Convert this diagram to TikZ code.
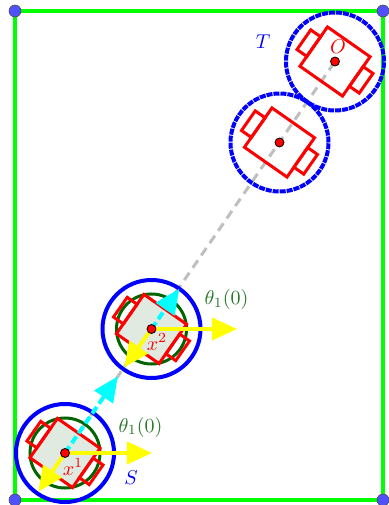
\documentclass[tikz,border=0pt]{standalone}
\usetikzlibrary{arrows.meta}

\definecolor{framegreen}{RGB}{0,255,0}
\definecolor{cornerblue}{RGB}{80,80,255}
\definecolor{sensorgreen}{RGB}{0,100,0}
\definecolor{labelgreen}{RGB}{40,120,40}
\definecolor{bodyfill}{RGB}{224,234,224}
\definecolor{headcyan}{RGB}{0,255,255}
\definecolor{axisyellow}{RGB}{255,255,0}

\tikzstyle{workspace} = [draw=framegreen, line width=2pt]
\tikzstyle{cornerdot} = [circle, draw=black!70, fill=cornerblue, inner sep=0pt, minimum size=6pt, line width=0.3pt]
\tikzstyle{reach} = [draw=blue, line width=2pt]
\tikzstyle{goalreach} = [reach, dash pattern=on 3pt off 0.5pt]
\tikzstyle{sensorring} = [draw=sensorgreen, line width=1.5pt]
\tikzstyle{robotline} = [draw=red, line width=1.5pt]
\tikzstyle{reddot} = [circle, draw=black, fill=red, inner sep=0pt, minimum size=4.5pt, line width=0.4pt]
\tikzstyle{route} = [draw=black!25, line width=1.5pt, dash pattern=on 4.5pt off 3pt]
\tikzstyle{headarrow} = [draw=headcyan, line width=2pt, dash pattern=on 4pt off 2pt, -{Triangle[length=12.5pt,width=11pt]}]
\tikzstyle{axisarrow} = [draw=axisyellow, line width=2pt, -{Triangle[length=12.5pt,width=11pt]}]

% robot body with two wheels, rotated about its centre
\newcommand{\robotat}[1]{%
  \begin{scope}[shift={(#1)}, rotate=-35]
    \draw[robotline] (-26,-24) rectangle (26,24);
    \draw[robotline] (-26,-12) rectangle (-38,12);
    \draw[robotline] (26,-12) rectangle (38,12);
  \end{scope}}
\newcommand{\bodyfillat}[1]{%
  \begin{scope}
    \clip (#1) circle (35);
    \fill[bodyfill, shift={(#1)}, rotate=-35] (-26,-24) rectangle (26,24);
  \end{scope}}

\begin{document}
\begin{tikzpicture}[x=0.5pt, y=0.5pt]
\useasboundingbox (0,0) rectangle (388,505);

\coordinate (r1) at (65,52);
\coordinate (r2) at (151.5,176);
\coordinate (r3) at (279.5,362.5);
\coordinate (r4) at (335,443.5);

% workspace
\draw[workspace] (15,5) rectangle (383,494);
\node (k1) [cornerdot] at (15,5) {};
\node (k2) [cornerdot] at (383,5) {};
\node (k3) [cornerdot] at (15,494) {};
\node (k4) [cornerdot] at (383,494) {};

\draw[route] (r1) -- (r4);

% start poses
\draw[reach] (r1) circle (49);
\draw[reach] (r2) circle (49);
\draw[sensorring] (r1) circle (35);
\draw[sensorring] (r2) circle (35);
\bodyfillat{r1}
\bodyfillat{r2}
\robotat{r1}
\robotat{r2}

% goal poses
\draw[goalreach] (r3) circle (49);
\draw[goalreach] (r4) circle (49);
\robotat{r3}
\robotat{r4}

\coordinate (c1) at (117.8,128.6);
\coordinate (c2) at (179.3,216.3);
\draw[headarrow] (r1) -- (c1);
\draw[headarrow] (r2) -- (c2);

\coordinate (h1) at (152,52);
\coordinate (d1) at (38.3,13.3);
\coordinate (h2) at (237,176);
\coordinate (d2) at (124.3,137.7);
\draw[axisarrow] (r1) -- (h1);
\draw[axisarrow] (r1) -- (d1);
\draw[axisarrow] (r2) -- (h2);
\draw[axisarrow] (r2) -- (d2);

\node (p1) [reddot] at (r1) {};
\node (p2) [reddot] at (r2) {};
\node (p3) [reddot] at (r3) {};
\node (p4) [reddot] at (r4) {};

\node (a1) [text=labelgreen] at (140.5,78) {$\theta_1(0)$};
\node (a2) [text=labelgreen] at (226.5,205) {$\theta_1(0)$};
\node (x1) [text=red] at (73,38) {$x^1$};
\node (x2) [text=red] at (157,163) {$x^2$};
\node (s) [text=blue] at (131,27) {$S$};
\node (t) [text=blue] at (263,463) {$T$};
\node (o) [text=red] at (338,458) {$O$};
\end{tikzpicture}
\end{document}
